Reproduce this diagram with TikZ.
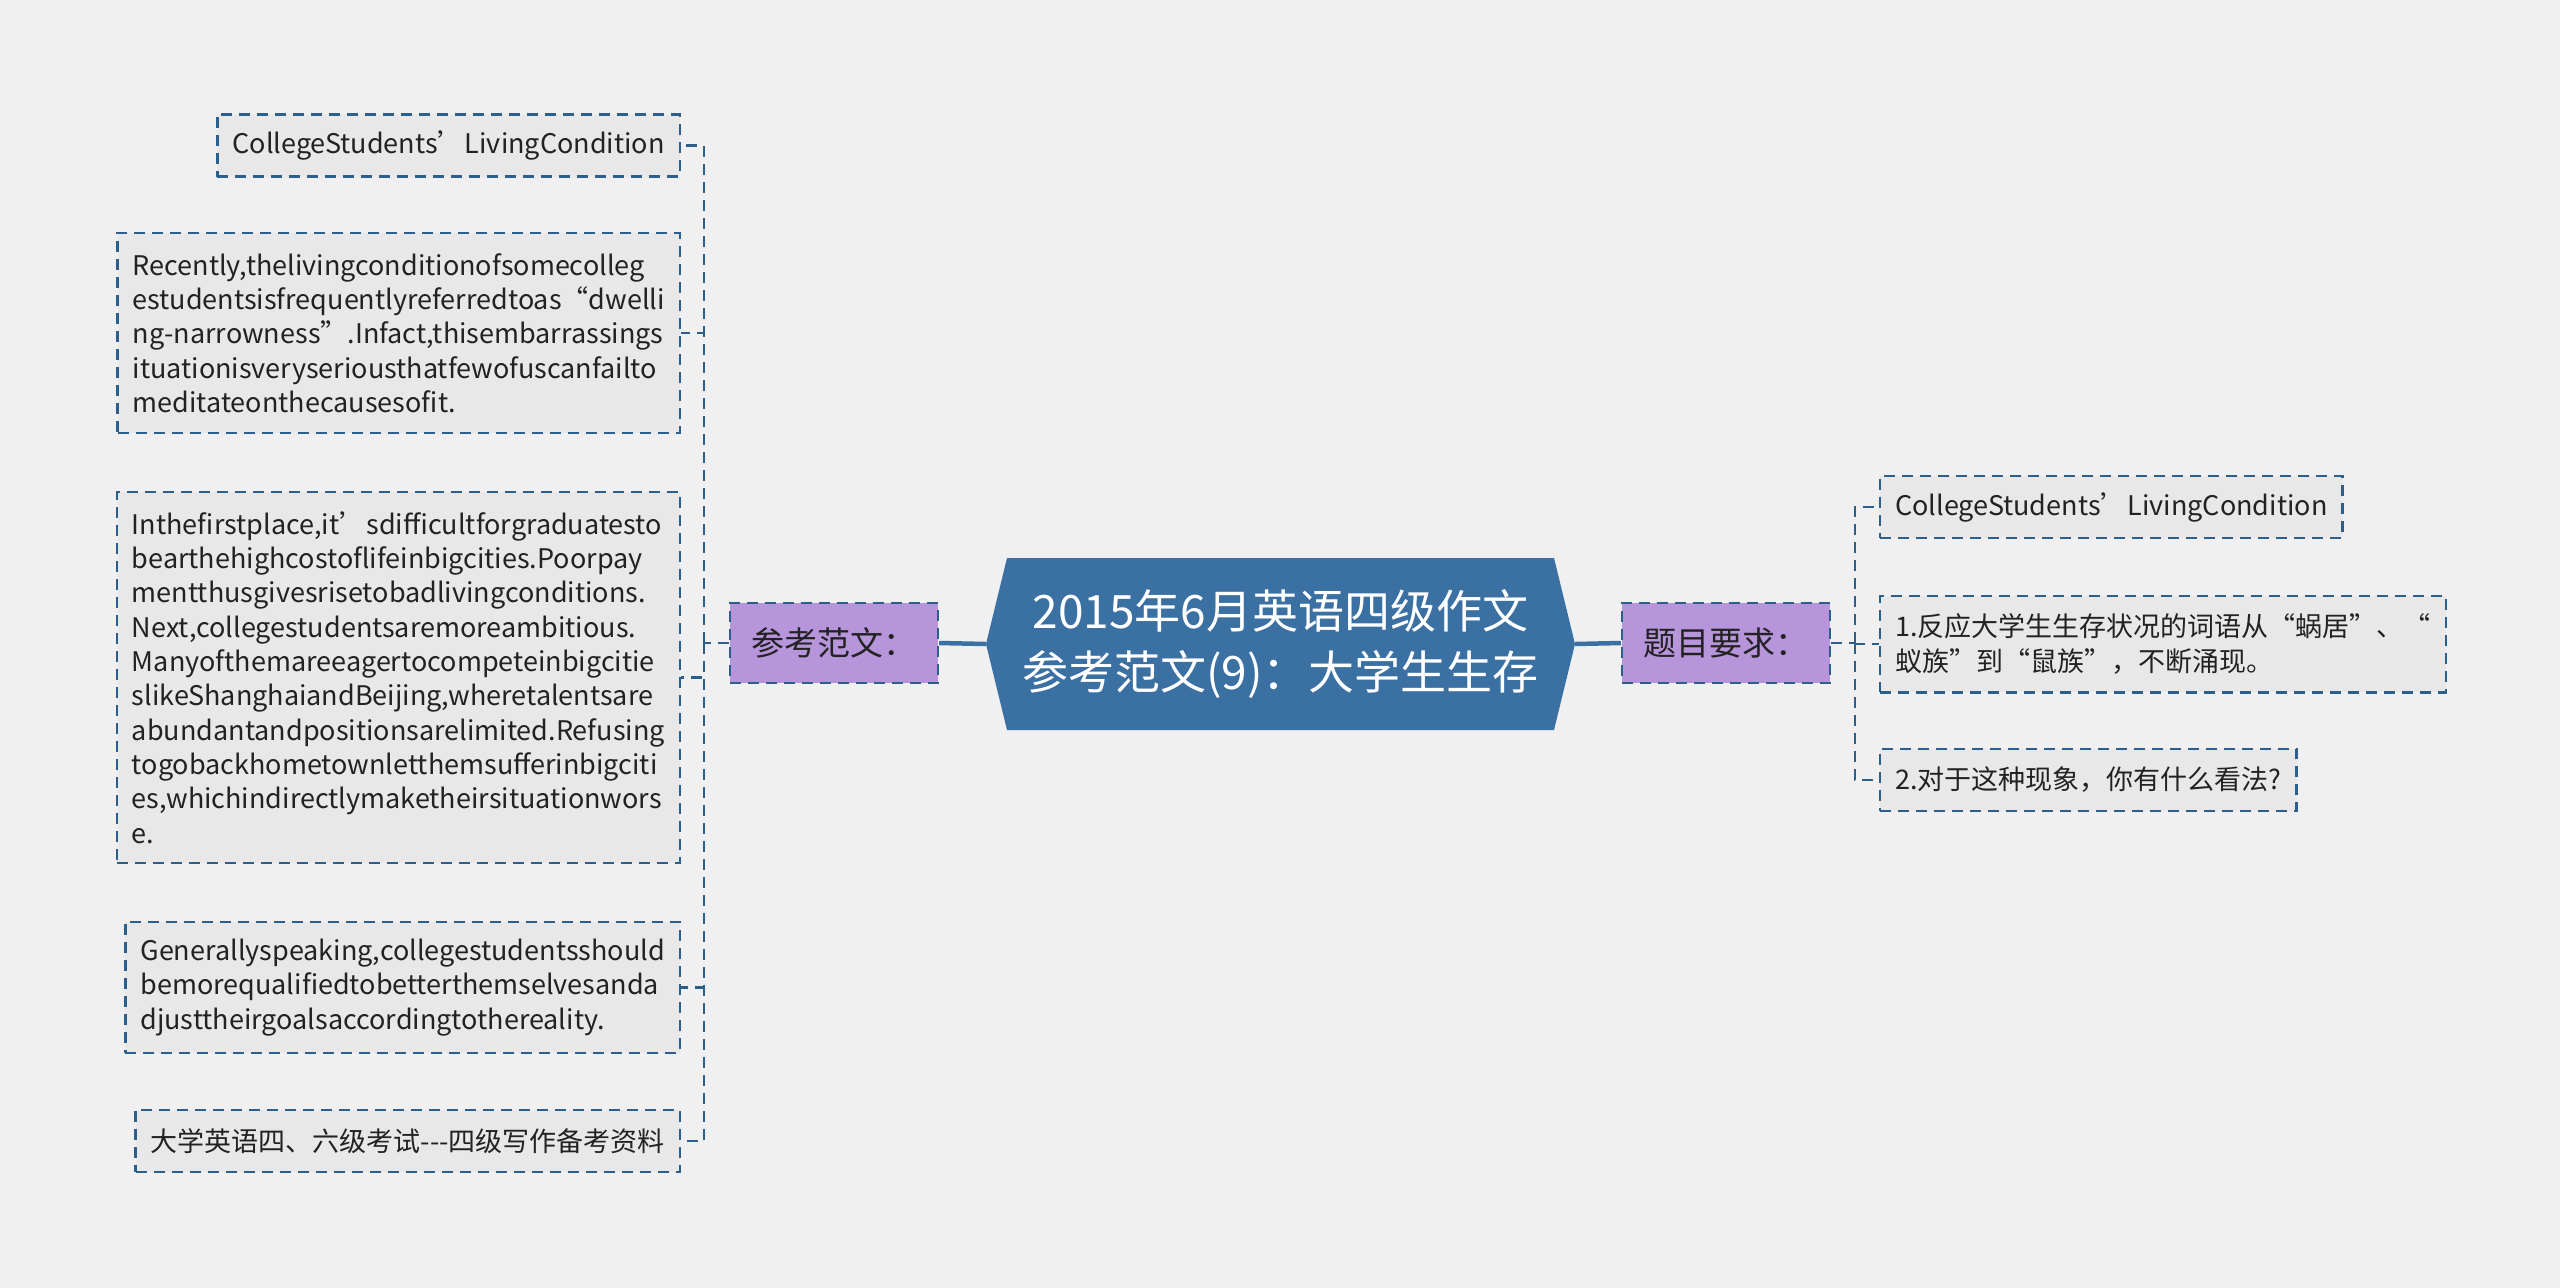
\documentclass[tikz,border=0pt]{standalone}
\usepackage{fontspec}
\setmainfont{Noto Sans CJK SC}
\usetikzlibrary{calc}
\definecolor{Paper}{HTML}{F0F0F0}
\definecolor{Ink}{HTML}{222222}
\definecolor{LeafFill}{HTML}{E8E8E8}
\definecolor{Edge}{HTML}{2D5F8C}
\definecolor{Topic}{HTML}{3B70A3}
\definecolor{Lilac}{HTML}{B795DA}

\begin{document}
\begin{tikzpicture}[x=1pt,y=-1pt,every node/.style={text=Ink},
  leaf/.style={draw=Edge,fill=LeafFill,line width=2.4pt,dash pattern=on 11pt off 7pt,
    align=left,inner xsep=15pt,inner ysep=0pt,minimum height={#1*34.3pt+28pt},
    font=\fontsize{27}{34.3}\selectfont},
  branch/.style={draw=Edge,fill=Lilac,line width=2.4pt,dash pattern=on 11pt off 7pt,
    minimum width=208pt,minimum height=80pt,inner sep=0pt,
    font=\fontsize{33}{40}\selectfont},
  topicbox/.style={minimum width=589pt,minimum height=172pt,inner sep=0pt,
    align=center,text=white,font=\fontsize{46}{61}\selectfont,
    path picture={\fill[Topic]
      ($(path picture bounding box.north west)+(21,0)$) --
      ($(path picture bounding box.north east)+(-21,0)$) --
      (path picture bounding box.east) --
      ($(path picture bounding box.south east)+(-21,0)$) --
      ($(path picture bounding box.south west)+(21,0)$) --
      (path picture bounding box.west) -- cycle;}},
  twig/.style={draw=Edge,line width=2.5pt,dash pattern=on 11pt off 7pt},
  trunk/.style={draw=Topic,line width=4.5pt}]
  \fill[Paper] (0,0) rectangle (2560,1288);
  \useasboundingbox (0,0) rectangle (2560,1288);

  \node[topicbox] (topic) at (1280.5,644) {2015年6月英语四级作文\\参考范文(9)：大学生生存};
  \node[branch] (essay) at (834,643) {参考范文：};
  \node[branch] (task) at (1726,643) {题目要求：};

  % sample essay, left side
  \node[leaf=1,anchor=east] (title) at (681,145.5) {CollegeStudents’LivingCondition};
  \node[leaf=5,anchor=east] (recent) at (681,333) {Recently,thelivingconditionofsomecolleg\\
    estudentsisfrequentlyreferredtoas“dwelli\\
    ng-narrowness”.Infact,thisembarrassings\\
    ituationisveryseriousthatfewofuscanfailto\\
    meditateonthecausesofit.};
  \node[leaf=10,anchor=east] (reasons) at (681,677.5) {Inthefirstplace,it’sdifficultforgraduatesto\\
    bearthehighcostoflifeinbigcities.Poorpay\\
    mentthusgivesrisetobadlivingconditions.\\
    Next,collegestudentsaremoreambitious.\\
    Manyofthemareeagertocompeteinbigcitie\\
    slikeShanghaiandBeijing,wheretalentsare\\
    abundantandpositionsarelimited.Refusing\\
    togobackhometownletthemsufferinbigciti\\
    es,whichindirectlymaketheirsituationwors\\
    e.};
  \node[leaf=3,anchor=east] (advice) at (681,987.5) {Generallyspeaking,collegestudentsshould\\
    bemorequalifiedtobetterthemselvesanda\\
    djusttheirgoalsaccordingtothereality.};
  \node[leaf=1,anchor=east] (source) at (681,1141) {大学英语四、六级考试-{}-{}-四级写作备考资料};

  % task, right side
  \node[leaf=1,anchor=west] (rtitle) at (1879,507) {CollegeStudents’LivingCondition};
  \node[leaf=2,anchor=west] (rtrend) at (1879,644) {1.反应大学生生存状况的词语从“蜗居”、“\\蚁族”到“鼠族”，不断涌现。};
  \node[leaf=1,anchor=west] (rview) at (1879,780) {2.对于这种现象，你有什么看法?};

  \draw[trunk] (essay.east) -- (topic.west);
  \draw[trunk] (topic.east) -- (task.west);

  \coordinate (lj) at ($(essay.west)+(-25,0)$);
  \coordinate (rj) at ($(task.east)+(24,0)$);
  \draw[twig] (essay.west) -- (lj);
  \foreach \n in {title,recent,reasons,advice,source}
    \draw[twig] (lj) |- (\n.east);
  \draw[twig] (task.east) -- (rj);
  \foreach \n in {rtitle,rtrend,rview}
    \draw[twig] (rj) |- (\n.west);
\end{tikzpicture}
\end{document}
